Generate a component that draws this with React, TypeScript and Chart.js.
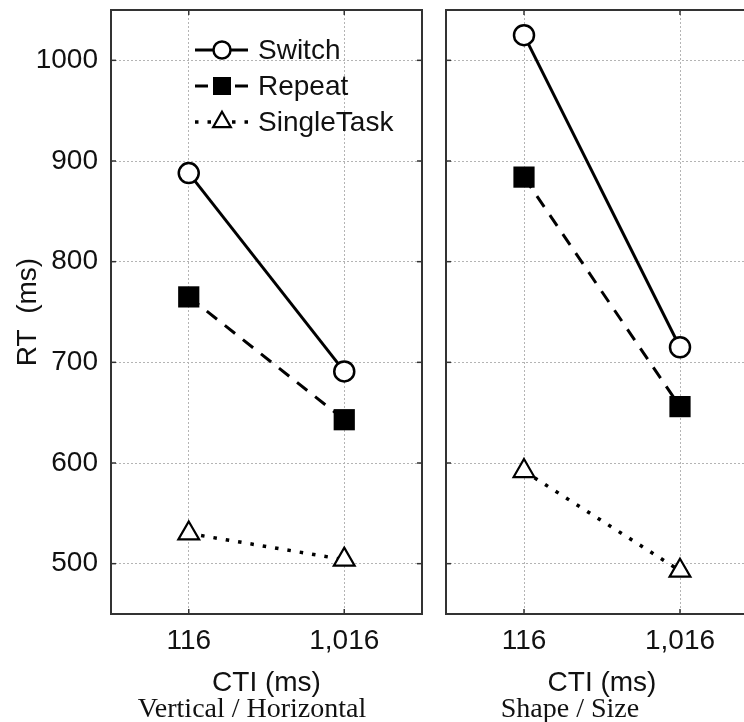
import React, { useEffect, useRef } from 'react';
import { Chart, registerables } from 'chart.js';

Chart.register(...registerables);

// ---------- data ----------
const categories = ['116', '1,016'];
const seriesLabels = ['Switch', 'Repeat', 'SingleTask'];
const leftSwitch = [888, 691];
const leftRepeat = [765, 643];
const leftSingle = [530, 504];
const rightSwitch = [1025, 715];
const rightRepeat = [884, 656];
const rightSingle = [592, 493];
const yTickValues = [500, 600, 700, 800, 900, 1000];
const yMin = 450;
const yMax = 1050;
const xTitle = 'CTI (ms)';
const yTitle = 'RT  (ms)';
const panelNames = ['Vertical / Horizontal', 'Shape / Size'];

// ---------- styles ----------
const SANS = '"Liberation Sans", Arial, Helvetica, sans-serif';
const SERIF = '"Liberation Serif", "Times New Roman", serif';
const FONT_SIZE = 28;
const TEXT = '#111';
const GRID = '#b4b4b4';
const FRAME = '#333';

function drawMarker(ctx: CanvasRenderingContext2D, style: string, x: number, y: number, r: number, fill: string, stroke: string, lw: number) {
  ctx.beginPath();
  if (style === 'circle') {
    ctx.arc(x, y, r, 0, Math.PI * 2);
  } else if (style === 'rect') {
    const s = r * Math.SQRT1_2;
    ctx.rect(x - s, y - s, 2 * s, 2 * s);
  } else {
    for (let k = 0; k < 3; k++) {
      const ang = (k * 2 * Math.PI) / 3;
      const px = x + Math.sin(ang) * r;
      const py = y - Math.cos(ang) * r;
      if (k === 0) ctx.moveTo(px, py);
      else ctx.lineTo(px, py);
    }
    ctx.closePath();
  }
  ctx.fillStyle = fill;
  ctx.fill();
  if (lw > 0) {
    ctx.lineWidth = lw;
    ctx.strokeStyle = stroke;
    ctx.setLineDash([]);
    ctx.stroke();
  }
}

const framePlugin = {
  id: 'frame',
  beforeDatasetsDraw(chart: any) {
    const { ctx, chartArea: a, scales } = chart;
    ctx.save();
    ctx.setLineDash([]);
    ctx.strokeStyle = FRAME;
    ctx.lineWidth = 2;
    ctx.strokeRect(a.left, a.top, a.right - a.left, a.bottom - a.top);
    ctx.lineWidth = 1.5;
    const seg = (x1: number, y1: number, x2: number, y2: number) => {
      ctx.beginPath();
      ctx.moveTo(x1, y1);
      ctx.lineTo(x2, y2);
      ctx.stroke();
    };
    const ys = scales.y;
    ys.ticks.forEach((t: any) => {
      const py = ys.getPixelForValue(t.value);
      seg(a.left, py, a.left + 5, py);
      seg(a.right, py, a.right - 5, py);
    });
    const xs = scales.x;
    xs.ticks.forEach((_t: any, i: number) => {
      const px = xs.getPixelForTick(i);
      seg(px, a.bottom, px, a.bottom - 5);
      seg(px, a.top, px, a.top + 5);
    });
    ctx.restore();
  },
};

const lineLegendPlugin = {
  id: 'lineLegend',
  afterDraw(chart: any, _args: any, opts: any) {
    if (!opts || !opts.enabled) return;
    const { ctx, chartArea: a } = chart;
    const x0 = a.left + 84;
    const x1 = a.left + 137;
    const xm = a.left + 111;
    const xt = a.left + 147;
    ctx.save();
    chart.data.datasets.forEach((ds: any, i: number) => {
      const y = a.top + 40 + i * 36;
      ctx.strokeStyle = ds.borderColor;
      ctx.lineWidth = ds.borderWidth;
      ctx.setLineDash(ds.borderDash || []);
      ctx.beginPath();
      ctx.moveTo(x0, y);
      ctx.lineTo(xm, y);
      ctx.stroke();
      ctx.beginPath();
      ctx.moveTo(x1, y);
      ctx.lineTo(xm, y);
      ctx.stroke();
      drawMarker(ctx, ds.pointStyle, xm, y, ds.pointRadius * 0.85, ds.pointBackgroundColor, ds.pointBorderColor, ds.pointBorderWidth);
      ctx.fillStyle = TEXT;
      ctx.font = `${FONT_SIZE}px ${SANS}`;
      ctx.textBaseline = 'middle';
      ctx.textAlign = 'left';
      ctx.fillText(ds.label, xt, y + 1);
    });
    ctx.restore();
  },
};

function makeDatasets(sw: number[], rp: number[], st: number[]) {
  return [
    {
      label: seriesLabels[0], data: sw, borderColor: '#000', borderWidth: 3, fill: false, tension: 0,
      pointStyle: 'circle', pointRadius: 10, pointBackgroundColor: '#fff', pointBorderColor: '#000', pointBorderWidth: 2.5,
    },
    {
      label: seriesLabels[1], data: rp, borderColor: '#000', borderWidth: 3, borderDash: [13, 10], fill: false, tension: 0,
      pointStyle: 'rect', pointRadius: 15, pointBackgroundColor: '#000', pointBorderColor: '#000', pointBorderWidth: 0,
    },
    {
      label: seriesLabels[2], data: st, borderColor: '#000', borderWidth: 3.5, borderDash: [3.5, 9], fill: false, tension: 0,
      pointStyle: 'triangle', pointRadius: 12, pointBackgroundColor: '#fff', pointBorderColor: '#000', pointBorderWidth: 2.2,
    },
  ];
}

const zeroPad = (s: any) => {
  s.paddingTop = 0;
  s.paddingBottom = 0;
  s.paddingLeft = 0;
  s.paddingRight = 0;
};

function makeConfig(datasets: any[], isLeft: boolean): any {
  const font = { family: SANS, size: FONT_SIZE };
  return {
    type: 'line',
    data: { labels: categories, datasets },
    options: {
      animation: false,
      responsive: false,
      maintainAspectRatio: false,
      events: [],
      layout: { autoPadding: false, padding: { top: 10, bottom: 0, left: isLeft ? 0 : 4, right: 8 } },
      plugins: {
        legend: { display: false },
        tooltip: { enabled: false },
        lineLegend: { enabled: isLeft },
      },
      scales: {
        x: {
          type: 'category',
          offset: true,
          grid: { offset: false, color: GRID, lineWidth: 1, drawTicks: false },
          border: { display: false, dash: [2, 2] },
          ticks: { font, color: TEXT, padding: 10, maxRotation: 0 },
          title: { display: true, text: xTitle, font, color: TEXT, padding: { top: 0, bottom: 0 } },
          afterFit: (s: any) => { s.height = 86; zeroPad(s); },
        },
        y: {
          type: 'linear',
          min: yMin,
          max: yMax,
          afterBuildTicks: (s: any) => { s.ticks = yTickValues.map((v) => ({ value: v })); },
          grid: { color: GRID, lineWidth: 1, drawTicks: false },
          border: { display: false, dash: [2, 2] },
          ticks: { display: isLeft, font, color: TEXT, padding: 13, callback: (v: any) => String(v) },
          title: { display: isLeft, text: yTitle, font, color: TEXT, padding: { top: 11, bottom: 0 } },
          afterFit: (s: any) => { s.width = isLeft ? 111 : 0; zeroPad(s); },
        },
      },
    },
    plugins: [framePlugin, lineLegendPlugin],
  };
}

function Panel({ datasets, isLeft, left, width }: { datasets: any[]; isLeft: boolean; left: number; width: number }) {
  const ref = useRef<HTMLCanvasElement>(null);
  useEffect(() => {
    if (!ref.current) return;
    const chart = new Chart(ref.current, makeConfig(datasets, isLeft));
    return () => chart.destroy();
  }, []);
  return (
    <canvas
      ref={ref}
      width={width}
      height={700}
      style={{ position: 'absolute', left, top: 0, width, height: 700 }}
    />
  );
}

export default function App() {
  const labelStyle: React.CSSProperties = {
    position: 'absolute',
    top: 694,
    fontFamily: SERIF,
    fontSize: 28,
    lineHeight: '28px',
    color: TEXT,
    whiteSpace: 'nowrap',
    transform: 'translateX(-50%)',
  };
  return (
    <div style={{ position: 'fixed', left: 0, top: 0, width: 744, height: 722, overflow: 'hidden', background: '#fff' }}>
      <Panel datasets={makeDatasets(leftSwitch, leftRepeat, leftSingle)} isLeft={true} left={0} width={430} />
      <Panel datasets={makeDatasets(rightSwitch, rightRepeat, rightSingle)} isLeft={false} left={442} width={324} />
      <div style={{ ...labelStyle, left: 252 }}>{panelNames[0]}</div>
      <div style={{ ...labelStyle, left: 570 }}>{panelNames[1]}</div>
    </div>
  );
}
